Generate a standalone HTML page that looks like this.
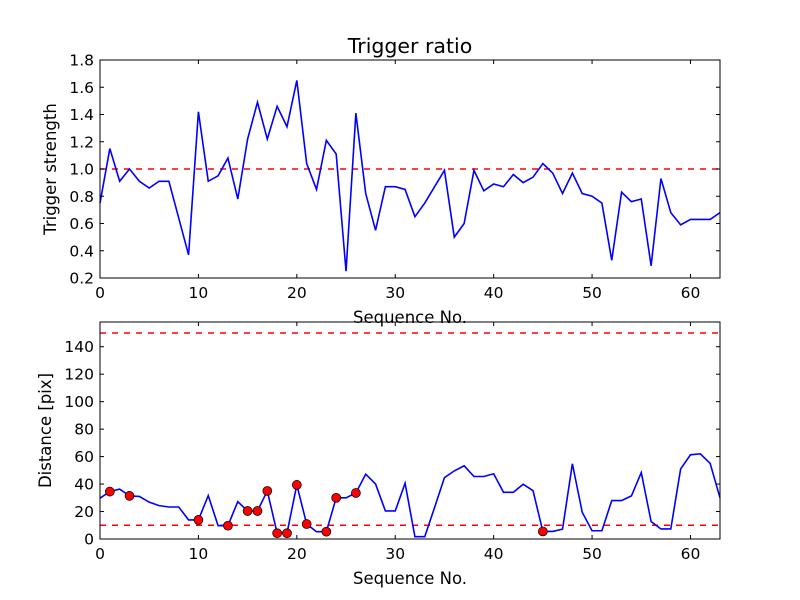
<!DOCTYPE html>
<html><head><meta charset="utf-8"><style>
body{margin:0;background:#fff;}
svg{display:block;font-family:"DejaVu Sans","Liberation Sans",sans-serif;}
</style></head><body>
<svg id="chart" width="800" height="600" viewBox="0 0 800 600" xmlns="http://www.w3.org/2000/svg">
<rect width="800" height="600" fill="#fff"/>
</svg>
<script>
const seqTop = [0.75,1.15,0.91,1.0,0.91,0.86,0.91,0.91,0.64,0.37,1.42,0.91,0.95,1.08,0.78,1.22,1.49,1.22,1.46,1.31,1.65,1.04,0.85,1.21,1.11,0.25,1.41,0.82,0.55,0.87,0.87,0.85,0.65,0.75,0.87,0.99,0.5,0.6,0.99,0.84,0.89,0.87,0.96,0.9,0.94,1.04,0.97,0.82,0.97,0.82,0.80,0.75,0.33,0.83,0.76,0.78,0.29,0.93,0.68,0.59,0.63,0.63,0.63,0.68];
const distance = [29.7,34.5,36.3,31.4,31,26.8,24.3,23.3,23.3,13.9,13.9,31.6,9.7,9.7,27.2,20.4,20.4,35,4.2,4.2,39.4,10.9,5.3,5.3,30,30,33.5,47.2,40.1,20.4,20.4,40.6,1.7,1.7,23,44.7,49.6,53.3,45.5,45.5,47.5,34,34,39.9,35.2,5.5,5.5,7.2,54.8,19.5,6,6,28,28,31.4,48.4,12.7,7.3,7.3,51,61.3,62,55,30];
const markerIdx = [1,3,10,13,15,16,17,18,19,20,21,23,24,26,45];
const xTicks = [0,10,20,30,40,50,60];
const yTicksTop = [0.2,0.4,0.6,0.8,1.0,1.2,1.4,1.6,1.8];
const yTicksBot = [0,20,40,60,80,100,120,140];
const thresholdTop = [1.0];
const thresholdBot = [10,150];

const NS="http://www.w3.org/2000/svg";
const svg=document.getElementById('chart');
function mk(tag,attrs,parent){const e=document.createElementNS(NS,tag);for(const k in attrs)e.setAttribute(k,attrs[k]);(parent||svg).appendChild(e);return e;}
const L=100,R=720;
const xs=v=>L+(v-0)*(R-L)/63;
function panel(name,top,bot,ymin,ymax){
  const ys=v=>bot-(v-ymin)*(bot-top)/(ymax-ymin);
  const g=mk('g',{});
  
  
  return {g,ys};
}
function axes(p,top,bot,yt,fmt,ylabel,name){
  const {g,ys}=p;
  const f=mk('rect',{x:L,y:top,width:R-L,height:bot-top,fill:'none',stroke:'#000','stroke-width':1},g);
  
  
  xTicks.forEach(t=>{
    const x=xs(t);
    mk('line',{x1:x,x2:x,y1:bot,y2:bot-4,stroke:'#000'},g);
    mk('line',{x1:x,x2:x,y1:top,y2:top+4,stroke:'#000'},g);
    const tx=mk('text',{x:x,y:bot+20,'text-anchor':'middle','font-size':15.5},g);
    tx.textContent=t;
    
    
  });
  yt.forEach(t=>{
    const y=ys(t);
    mk('line',{x1:L,x2:L+4,y1:y,y2:y,stroke:'#000'},g);
    mk('line',{x1:R,x2:R-4,y1:y,y2:y,stroke:'#000'},g);
    const tx=mk('text',{x:L-6,y:y+5.5,'text-anchor':'end','font-size':15.5},g);
    tx.textContent=fmt(t);
    
    
  });
  const xl=mk('text',{x:(L+R)/2,y:bot+45,'text-anchor':'middle','font-size':16.5},g);
  xl.textContent='Sequence No.';
  
  
  const yl=mk('text',{x:0,y:0,'text-anchor':'middle','font-size':16.5,transform:`translate(${name==='top'?56:51},${(top+bot)/2}) rotate(-90)`},g);
  yl.textContent=ylabel;
  
  
}
const T1=60,B1=278;
const p1=panel('top-panel',T1,B1,0.2,1.8);
thresholdTop.forEach(v=>{
  const l=mk('line',{x1:L,x2:R,y1:p1.ys(v),y2:p1.ys(v),stroke:'#f00','stroke-width':1.5,'stroke-dasharray':'6,6'},p1.g);
  
  
});
const l1=mk('polyline',{points:seqTop.map((v,i)=>xs(i)+','+p1.ys(v)).join(' '),fill:'none',stroke:'#00f','stroke-width':1.6},p1.g);


axes(p1,T1,B1,yTicksTop,t=>t.toFixed(1),'Trigger strength','top');
const title=mk('text',{x:(L+R)/2,y:T1-7,'text-anchor':'middle','font-size':20.5});
title.textContent='Trigger ratio';


const T2=322,B2=539;
const p2=panel('bottom-panel',T2,B2,0,158);
thresholdBot.forEach(v=>{
  const l=mk('line',{x1:L,x2:R,y1:p2.ys(v),y2:p2.ys(v),stroke:'#f00','stroke-width':1.5,'stroke-dasharray':'6,6'},p2.g);
  
  
});
const l2=mk('polyline',{points:distance.map((v,i)=>xs(i)+','+p2.ys(v)).join(' '),fill:'none',stroke:'#00f','stroke-width':1.6},p2.g);


markerIdx.forEach(i=>{
  const c=mk('circle',{cx:xs(i),cy:p2.ys(distance[i]),r:4.5,fill:'#f00',stroke:'#000','stroke-width':0.7},p2.g);
  
  
});
axes(p2,T2,B2,yTicksBot,t=>String(t),'Distance [pix]','bottom');
</script>
</body></html>
